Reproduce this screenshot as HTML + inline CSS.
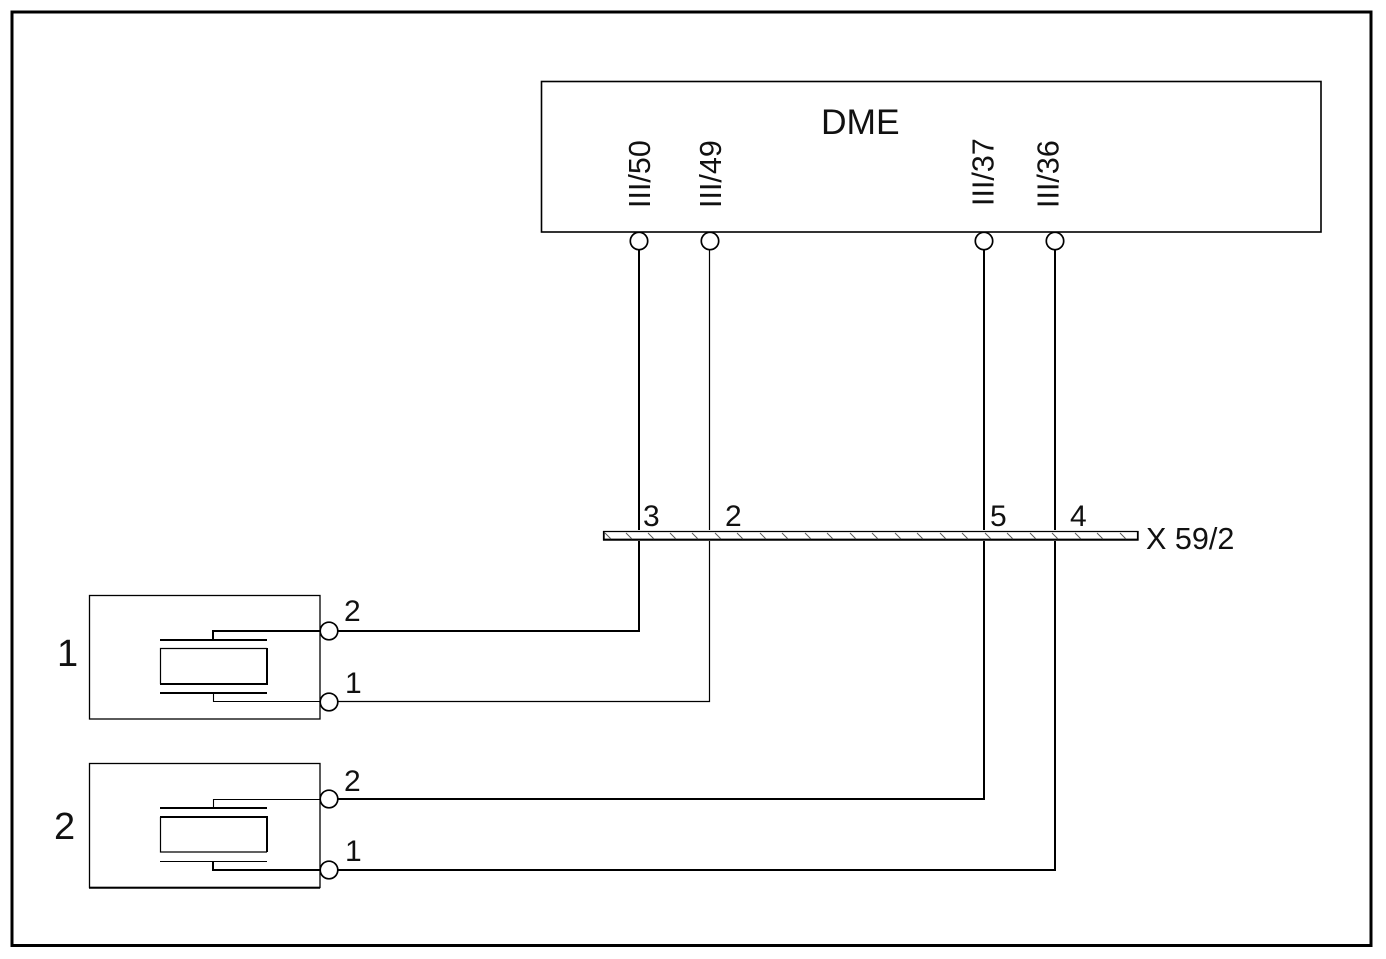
<!DOCTYPE html>
<html>
<head>
<meta charset="utf-8">
<style>
html,body{margin:0;padding:0;background:#fff;width:1386px;height:959px;overflow:hidden}
svg{display:block}
text{font-family:"Liberation Sans",sans-serif;fill:#111}
.n{font-size:30px}
.v{font-size:30.5px}
</style>
</head>
<body>
<svg width="1386" height="959" viewBox="0 0 1386 959" xmlns="http://www.w3.org/2000/svg">
<rect x="0" y="0" width="1386" height="959" fill="#fff"/>
<rect x="12" y="12" width="1359" height="933.5" fill="none" stroke="#000" stroke-width="3"/>

<!-- DME -->
<rect x="541.5" y="81.5" width="779.5" height="150.5" fill="none" stroke="#000" stroke-width="1.6"/>
<text x="821" y="134" style="font-size:35.4px">DME</text>
<text class="v" transform="translate(650 208) rotate(-90)">III/50</text>
<text class="v" transform="translate(721 208) rotate(-90)">III/49</text>
<text class="v" transform="translate(993.5 206) rotate(-90)">III/37</text>
<text class="v" transform="translate(1058.5 208) rotate(-90)">III/36</text>

<!-- Wires -->
<g fill="none" stroke="#000">
<path d="M639 250V530M639 541V631H338" stroke-width="2"/>
<path d="M709.5 250V530M709.5 541V701.5H338" stroke-width="1.2"/>
<path d="M984 250V530M984 541V799H338" stroke-width="2"/>
<path d="M1055 250V530M1055 541V870H338" stroke-width="2"/>
</g>

<!-- Top connector circles -->
<g fill="#fff" stroke="#000" stroke-width="1.7">
<circle cx="639" cy="241" r="8.7"/>
<circle cx="710" cy="241" r="8.7"/>
<circle cx="984" cy="241" r="8.7"/>
<circle cx="1055" cy="241" r="8.7"/>
</g>

<!-- Connector bar -->
<rect x="603.5" y="531.5" width="534" height="8" fill="#fff" stroke="none"/>
<path d="M603 531.5H1138.5" stroke="#000" stroke-width="1.3"/>
<path d="M603 539.7H1138.5" stroke="#000" stroke-width="2.2"/>
<path d="M603.8 531V540.5M1137.8 531V540.5" stroke="#000" stroke-width="1.8"/>
<path stroke="#555" stroke-width="0.9" fill="none" d="M605 533l6 6M626 533l6 6M648 533l6 6M670 533l6 6M692 533l6 6M715 533l6 6M737 533l6 6M760 533l6 6M782 533l6 6M805 533l6 6M827 533l6 6M850 533l6 6M872 533l6 6M895 533l6 6M917 533l6 6M940 533l6 6M962 533l6 6M985 533l6 6M1007 533l6 6M1030 533l6 6M1052 533l6 6M1075 533l6 6M1097 533l6 6M1120 533l6 6"/>
<text class="n" x="643" y="526">3</text>
<text class="n" x="725" y="526">2</text>
<text class="n" x="990" y="526">5</text>
<text class="n" x="1070" y="526">4</text>
<text x="1146" y="549" style="font-size:30.6px">X 59/2</text>

<!-- Component 1 -->
<rect x="89.5" y="595.5" width="230.5" height="123.5" fill="none" stroke="#000" stroke-width="1.3"/>
<g fill="none" stroke="#000">
<path d="M213 640V631H320" stroke-width="2"/>
<path d="M160 640H267" stroke-width="2"/>
<path d="M160.5 684V648.5H267" stroke-width="1.2"/>
<path d="M160 684H267V648" stroke-width="2"/>
<path d="M160 693H267" stroke-width="2"/>
<path d="M213.5 693V701.5H320" stroke-width="1.1"/>
</g>
<circle cx="329" cy="631" r="8.8" fill="#fff" stroke="#000" stroke-width="1.7"/>
<circle cx="329" cy="702" r="8.8" fill="#fff" stroke="#000" stroke-width="1.7"/>
<text class="n" x="344" y="621">2</text>
<text class="n" x="345" y="693">1</text>
<text x="57" y="666" style="font-size:38px">1</text>

<!-- Component 2 -->
<rect x="89.5" y="763.5" width="230.5" height="124" fill="none" stroke="#000" stroke-width="1.3"/>
<path d="M89 887.7H320" stroke="#000" stroke-width="2"/>
<g fill="none" stroke="#000">
<path d="M213.5 808V799.5H320" stroke-width="1.1"/>
<path d="M160 808H267" stroke-width="2"/>
<path d="M160 817H267V852" stroke-width="2"/>
<path d="M160.5 817V852H267" stroke-width="1.2"/>
<path d="M160 861.5H267" stroke-width="1.1"/>
<path d="M213 861V870H320" stroke-width="2"/>
</g>
<circle cx="329" cy="799" r="8.8" fill="#fff" stroke="#000" stroke-width="1.7"/>
<circle cx="329" cy="870" r="8.8" fill="#fff" stroke="#000" stroke-width="1.7"/>
<text class="n" x="344" y="791">2</text>
<text class="n" x="345" y="861">1</text>
<text x="54" y="839" style="font-size:38px">2</text>
</svg>
</body>
</html>
